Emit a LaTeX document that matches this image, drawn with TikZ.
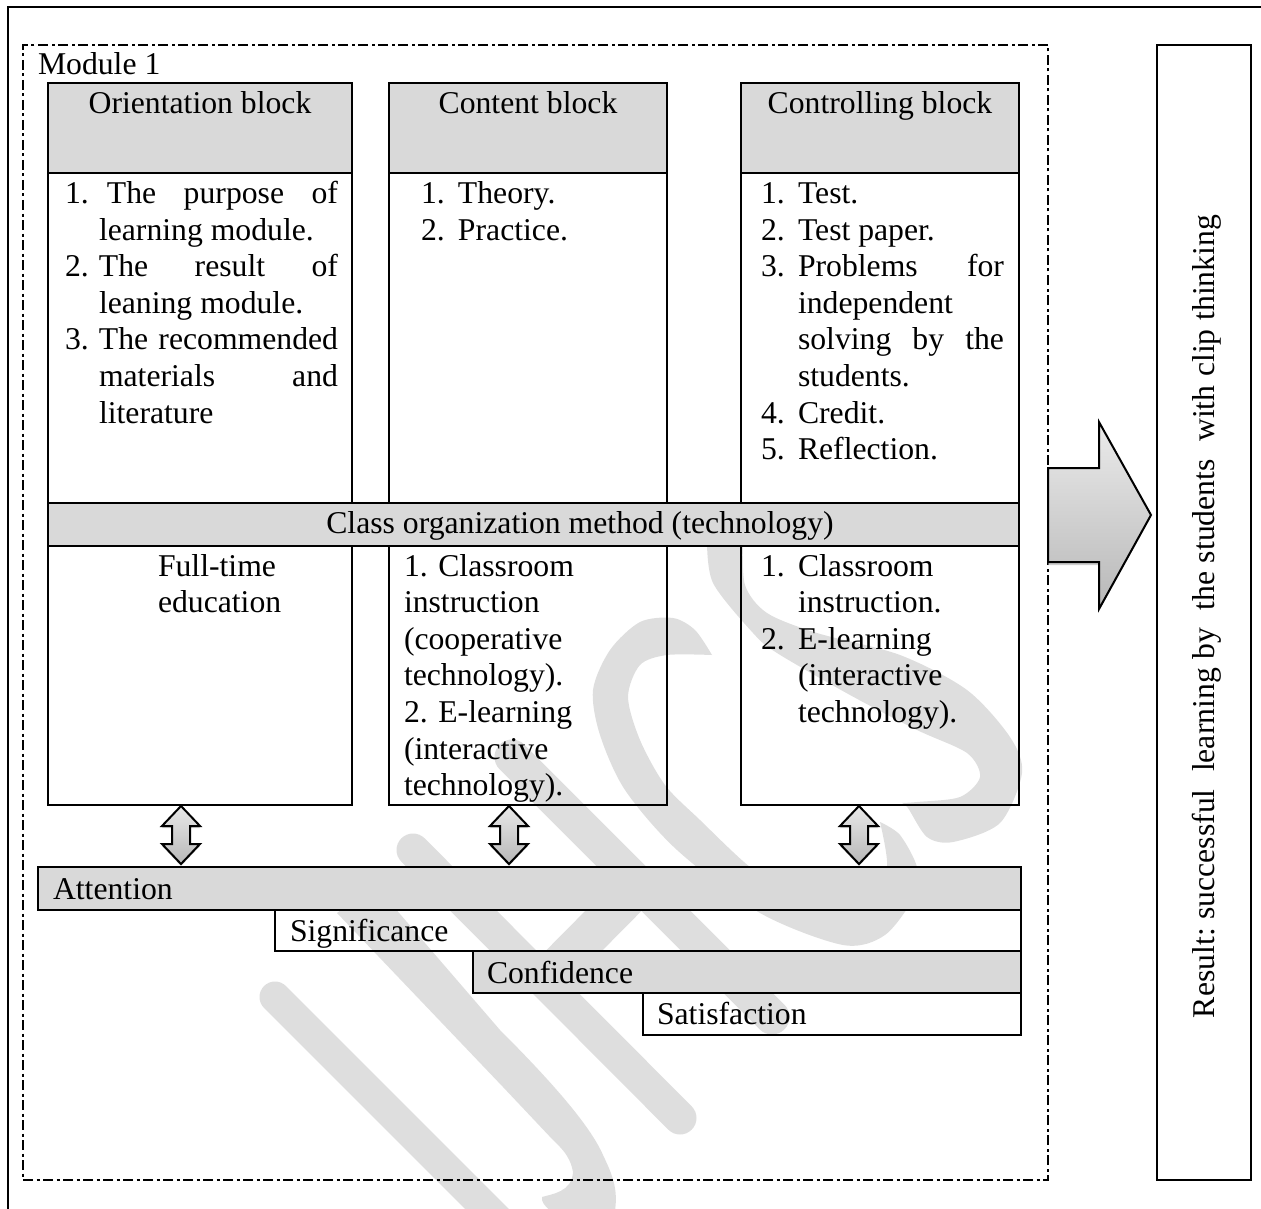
\documentclass[tikz,border=0pt]{standalone}
\usepackage{fontspec}
\setmainfont{Liberation Serif}
\definecolor{wm}{HTML}{DEDEDE}
\definecolor{bar}{HTML}{D9D9D9}
\newcommand{\FL}{\rule{0pt}{28pt}}
\newcommand{\itm}[3]{{\hangindent=#1pt\hangafter=1\noindent\makebox[#1pt][l]{#2}#3\par}}
\tolerance=9999 \hbadness=10000 \hfuzz=5pt
\tikzset{
  x=1pt,y=-1pt,
  ln/.style={line width=2.7pt},
  box/.style={draw,ln,inner sep=0pt,outer sep=0pt,anchor=north west,rectangle},
  greybox/.style={box,fill=bar},
  txt/.style={inner sep=0pt,outer sep=0pt,font=\fontsize{31.7}{36.6}\selectfont\frenchspacing},
  lbl/.style={txt,anchor=base west},
  clbl/.style={txt,anchor=base},
  para/.style={txt,anchor=north west,align=justify,text width=#1},
  lpara/.style={txt,anchor=north west,align=left,text width=#1},
  blockarrow/.style={draw,line width=2pt,line join=miter,top color=#1,bottom color=black!28},
  dblarrow/.pic={
    \fill[black!35,opacity=.55] (-19,22) -- (-9,22) -- (-9,40) -- (-19,40) -- (0,60) -- (19,40) -- (9,40) -- (9,22) -- (19,22) -- (0,2) -- cycle;
    \path[blockarrow=black!9] (-19,20) -- (-9,20) -- (-9,38) -- (-19,38) -- (0,58) -- (19,38) -- (9,38) -- (9,20) -- (19,20) -- (0,0) -- cycle;
  },
}
\begin{document}
\begin{tikzpicture}
\useasboundingbox (0,0) rectangle (1261,1209);
% watermark
\begin{scope}[wm,line cap=round,line join=round]
\clip (0,0) rectangle (1261,1209);
\draw[line width=31pt] (275,997) -- (520,1242);
\draw[line width=33pt] (413,850) -- (680,1118);
\draw[line width=35pt] (512,757) -- (772,1017);
\draw[line width=40pt,line cap=butt] (544,981) -- (641,883);
\fill (337,913) -- (375,885) -- (500,1030)
  .. controls (550,1080) and (590,1125) .. (603,1155)
  .. controls (615,1180) and (620,1195) .. (612,1225)
  -- (570,1225)
  .. controls (555,1215) and (540,1205) .. (542,1197)
  .. controls (552,1194) and (572,1192) .. (573,1172)
  .. controls (570,1155) and (560,1147) .. (553,1140)
  -- (503,1087) -- cycle;
\fill plot[smooth] coordinates {(712,655) (695,630) (673,618) (640,622) (610,650) (593,690) (600,735) (625,790) (677,850) (760,913) (843,945) (885,935) (915,895) (917,867) (900,835) (880,822)}
  -- plot[smooth] coordinates {(880,822) (887,867) (870,895) (830,900) (790,890) (750,867) (700,820) (665,785) (640,740) (628,697) (640,665) (667,655) (712,655)} -- cycle;
\fill plot[smooth] coordinates {(707,540) (713,583) (753,633) (777,653) (850,695) (917,730) (967,753) (980,777) (960,797) (917,802) (902,803)}
  -- plot[smooth] coordinates {(902,803) (908,808) (927,837) (953,842) (1000,823) (1022,773) (1010,737) (967,690) (900,655) (817,633) (767,613) (745,585) (743,540)} -- cycle;
\end{scope}
% frames
\coordinate (fa) at (8,1209); \coordinate (fb) at (8,7); \coordinate (fc) at (1261,7);
\draw[ln] (fa) -- (fb) -- (fc);
\node[draw,line width=2pt,dash pattern=on 10pt off 3.5pt on 3pt off 3.5pt,inner sep=0pt,outer sep=0pt,anchor=north west,minimum width=1025pt,minimum height=1135pt] (module) at (23,45) {};
\node[box,minimum width=94pt,minimum height=1135pt] (result) at (1157,45) {};
\node[lbl] (modlbl) at (38,75) {Module 1};
% columns
\node[box,minimum width=304pt,minimum height=632pt] (col1) at (48,173) {};
\node[box,minimum width=278pt,minimum height=632pt] (col2) at (389,173) {};
\node[box,minimum width=278pt,minimum height=632pt] (col3) at (741,173) {};
\node[greybox,minimum width=304pt,minimum height=90pt] (h1) at (48,83) {};
\node[greybox,minimum width=278pt,minimum height=90pt] (h2) at (389,83) {};
\node[greybox,minimum width=278pt,minimum height=90pt] (h3) at (741,83) {};
\node[clbl] (h1t) at (200,114) {Orientation block};
\node[clbl] (h2t) at (528,114) {Content block};
\node[clbl] (h3t) at (880,114) {Controlling block};
\node[greybox,minimum width=971pt,minimum height=43pt] (cls) at (48,503) {};
\node[clbl] (clst) at (580,533) {Class organization method (technology)};
% column text
\node[para=273pt] (t1) at (65,175.5) {\itm{34}{1.}{\FL\hspace{8pt}The purpose of\linebreak learning module.}\itm{34}{2.}{The result of\linebreak leaning module.}\itm{34}{3.}{The recommended\linebreak materials and\linebreak literature}};
\node[para=243pt] (t2) at (421,175.5) {\itm{37}{1.}{\FL Theory.}\itm{37}{2.}{Practice.}};
\node[para=243pt] (t3) at (761,175.5) {\itm{37}{1.}{\FL Test.}\itm{37}{2.}{Test paper.}\itm{37}{3.}{Problems for\linebreak independent\hfill\null\linebreak solving by the\linebreak students.}\itm{37}{4.}{Credit.}\itm{37}{5.}{Reflection.}};
\node[lpara=180pt] (b1) at (158,548) {\FL Full-time\\education};
\node[lpara=255pt] (b2) at (404,548) {\FL 1. Classroom\\instruction\\(cooperative\\technology).\\2. E-learning\\(interactive\\technology).};
\node[lpara=243pt] (b3) at (761,548) {\itm{37}{1.}{\FL Classroom\newline instruction.}\itm{37}{2.}{E-learning\newline (interactive\newline technology).}};
% steps
\node[greybox,minimum width=983pt,minimum height=43pt] (att) at (38,867) {};
\node[box,minimum width=746pt,minimum height=41pt] (sig) at (275,910) {};
\node[greybox,minimum width=548pt,minimum height=42pt] (con) at (473,951) {};
\node[box,minimum width=378pt,minimum height=42pt] (sat) at (643,993) {};
\node[lbl] (attt) at (53,899) {Attention};
\node[lbl] (sigt) at (290,941) {Significance};
\node[lbl] (cont) at (487,983) {Confidence};
\node[lbl] (satt) at (657,1024) {Satisfaction};
% arrows
\pic at (181,806) {dblarrow};
\pic at (509,806) {dblarrow};
\pic at (859,806) {dblarrow};
\fill[black!35,opacity=.55] (1048,470) -- (1099,470) -- (1099,424) -- (1151,517) -- (1099,611) -- (1099,565) -- (1048,565) -- cycle;
\path[blockarrow=black!8] (1048,468) -- (1099,468) -- (1099,422) -- (1151,515) -- (1099,609) -- (1099,562) -- (1048,562) -- cycle;
% result
\node[txt,rotate=90,anchor=base west] (rest) at (1214,1018) {\makebox[803pt][s]{Result: successful\ \ learning by\ \ the students\ \ with clip thinking}};
\end{tikzpicture}
\end{document}
